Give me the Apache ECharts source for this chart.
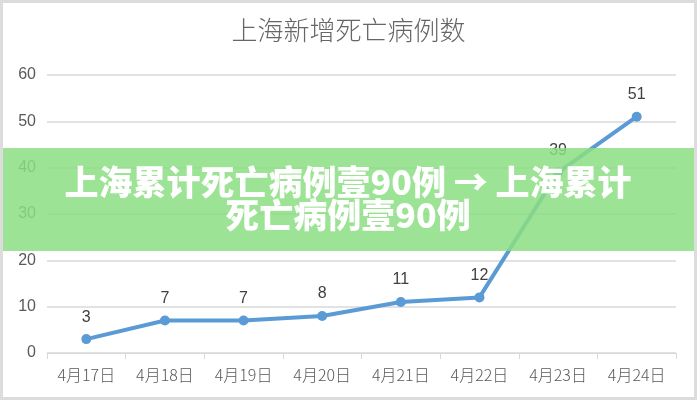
<!DOCTYPE html>
<head>
    <meta charset="utf-8">
    <title>上海新增死亡病例数</title>
    <script src="https://cdn.jsdelivr.net/npm/echarts@6/dist/echarts.min.js"></script>
    <style>
        html, body { margin: 0; padding: 0; background: #fff; }
        #main { width: 691px; height: 394px; border: 3px solid #dcdcdc; }
    </style>
</head>
<body>
<div id="main"></div>
<script type="text/javascript">
    // 日期
    var dates = ['4月17日', '4月18日', '4月19日', '4月20日', '4月21日', '4月22日', '4月23日', '4月24日'];
    // 新增死亡病例
    var deaths = [3, 7, 7, 8, 11, 12, 39, 51];
    // 横幅文字
    var bannerText = '上海累计死亡病例壹90例 → 上海累计\n死亡病例壹90例';

    var myChart = echarts.init(document.getElementById('main'));

    var option = {
        animation: false,
        title: {
            text: '上海新增死亡病例数',
            left: 'center',
            top: 9,
            textStyle: {
                fontFamily: 'Noto Sans CJK SC',
                fontWeight: 300,
                fontSize: 26,
                color: '#666666'
            }
        },
        grid: {
            left: 44,
            right: 18,
            top: 72,
            bottom: 44
        },
        xAxis: {
            type: 'category',
            data: dates,
            boundaryGap: true,
            axisLine: { lineStyle: { color: '#d9d9d9', width: 1 } },
            axisTick: { show: true, length: 6, lineStyle: { color: '#d9d9d9' } },
            axisLabel: {
                color: '#595959',
                fontSize: 16,
                margin: 14,
                fontFamily: 'Noto Sans CJK SC',
                fontWeight: 300
            }
        },
        yAxis: {
            type: 'value',
            min: 0,
            max: 60,
            interval: 10,
            axisLine: { show: false },
            axisTick: { show: false },
            splitLine: { lineStyle: { color: '#d9d9d9', width: 1.5 } },
            axisLabel: {
                color: '#595959',
                fontSize: 16,
                margin: 11,
                fontFamily: 'Liberation Sans'
            }
        },
        series: [
            {
                name: '新增死亡病例',
                type: 'line',
                data: deaths,
                symbol: 'circle',
                symbolSize: 10,
                itemStyle: { color: '#5b9bd5' },
                lineStyle: { color: '#5b9bd5', width: 4 },
                label: {
                    show: true,
                    position: 'top',
                    distance: 9,
                    color: '#404040',
                    fontSize: 16,
                    fontFamily: 'Liberation Sans'
                }
            }
        ],
        graphic: [
            {
                type: 'rect',
                left: -3,
                top: 145,
                z: 100,
                shape: { width: 700, height: 103 },
                style: { fill: 'rgba(140, 222, 130, 0.85)' }
            },
            {
                type: 'text',
                x: 345,
                y: 196,
                z: 101,
                style: {
                    text: bannerText,
                    fill: '#ffffff',
                    font: '900 34px "Noto Sans CJK SC"',
                    lineHeight: 33,
                    align: 'center',
                    verticalAlign: 'middle'
                }
            }
        ]
    };

    myChart.setOption(option);
</script>
</body>
